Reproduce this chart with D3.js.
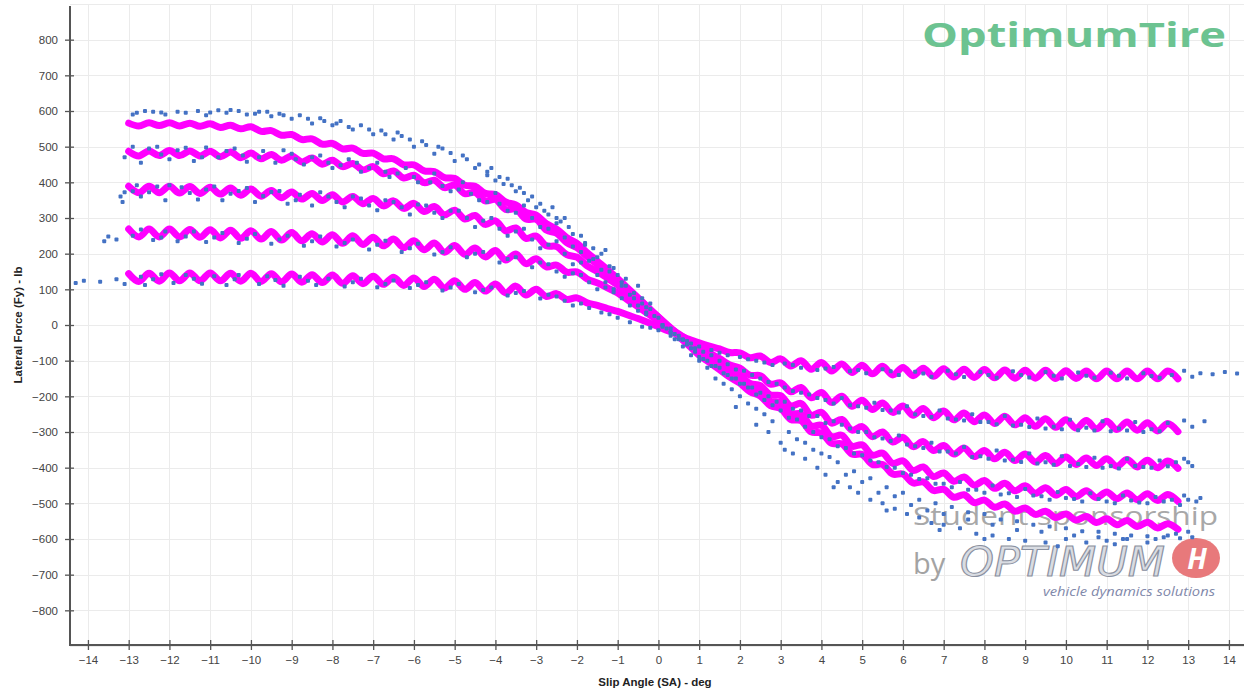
<!DOCTYPE html>
<html>
<head>
<meta charset="utf-8">
<script src="https://cdn.jsdelivr.net/npm/d3@7/dist/d3.min.js"></script>
<style>
  html, body { margin: 0; padding: 0; background: #fff; }
  svg { display: block; font-family: "Liberation Sans", Arial, sans-serif; }
</style>
</head>
<body>
<svg id="chart" width="1244" height="694"></svg>
<script>
// Tire lateral force vs slip angle: 5 normal loads, raw test points + fitted curves.
const xTickLabels = [-14, -13, -12, -11, -10, -9, -8, -7, -6, -5, -4, -3, -2, -1, 0, 1, 2, 3, 4, 5, 6, 7, 8, 9, 10, 11, 12, 13, 14];
const yTickLabels = [-800, -700, -600, -500, -400, -300, -200, -100, 0, 100, 200, 300, 400, 500, 600, 700, 800];

// fitted curves, sampled every 0.25 deg starting at -13 deg
const fitStart = -13;
const fitStep = 0.25;
const fitA = [566,558,567,559,567,558,566,557,564,554,560,550,556,543,545,532,534,520,522,507,509,494,496,481,482,466,466,449,449,432,430,413,411,392,389,369,366,345,337,316,
  308,284,269,245,229,203,179,155,130,103,76,49,22,-5,-32,-58,-85,-105,-125,-146,-163,
  -187,-199,-226,-234,-265,-268,-300,-303,-332,-333,-362,-363,-391,-391,-418,-418,-443,-440,-464,-461,-483,-476,-498,-491,-511,-502,-522,-513,-531,-522,-540,-530,-547,-537,-554,-543,-560,-548,-565,-553,-569,-557,-573];
const fitB = [487,474,488,475,489,475,488,474,487,472,485,469,482,466,478,462,474,457,468,451,462,444,453,435,444,424,432,412,420,399,406,385,392,368,372,348,352,324,325,297,
  296,266,257,231,217,192,170,148,125,99,74,48,22,-3,-28,-53,-78,-97,-117,-138,-152,
  -177,-185,-214,-218,-249,-249,-283,-281,-313,-309,-340,-336,-365,-359,-388,-381,-408,-398,-425,-415,-438,-426,-449,-436,-458,-444,-465,-451,-472,-456,-477,-461,-481,-465,-484,-468,-487,-471,-490,-473,-492,-475,-494];
const fitC = [389,371,389,371,389,370,388,369,386,367,384,364,381,361,377,357,373,353,369,349,365,345,360,340,355,334,348,327,341,318,332,309,322,297,307,282,292,264,272,243,
  249,222,220,197,190,166,150,131,112,88,64,39,15,-6,-28,-49,-70,-89,-108,-128,-142,
  -164,-170,-196,-198,-227,-220,-253,-245,-275,-265,-295,-285,-313,-300,-328,-315,-341,-327,-352,-338,-362,-345,-369,-352,-375,-357,-380,-362,-384,-366,-388,-370,-391,-373,-394,-375,-396,-377,-398,-379,-400,-381,-402];
const fitD = [269,247,269,247,269,247,268,246,267,244,266,243,264,241,262,238,259,236,256,233,253,229,250,226,246,222,241,217,236,211,230,204,223,198,216,191,209,182,199,172,
  186,163,168,148,149,129,118,104,90,70,51,31,12,-7,-25,-44,-62,-78,-94,-112,-121,
  -141,-142,-166,-162,-187,-175,-204,-189,-217,-200,-228,-211,-237,-219,-245,-227,-253,-234,-260,-241,-266,-247,-271,-252,-276,-256,-280,-260,-284,-263,-287,-266,-289,-268,-291,-270,-293,-272,-295,-274,-297,-276,-299];
const fitE = [144,122,145,123,146,124,146,124,146,124,145,123,145,122,144,121,143,120,141,119,140,117,138,116,137,114,134,111,132,108,128,104,124,100,119,95,115,90,109,84,
  100,80,88,72,76,62,55,46,38,28,18,7,-5,-17,-28,-40,-50,-59,-67,-77,-78,
  -92,-87,-105,-95,-115,-100,-124,-105,-129,-109,-133,-113,-137,-116,-140,-119,-142,-121,-144,-123,-146,-124,-147,-125,-148,-126,-149,-127,-149,-127,-150,-128,-150,-129,-151,-129,-151,-129,-151,-129,-151,-129,-151];

// measured points [slip angle, Fy]
const pointsA = [[-12.9,590],[-12.8,595],[-12.4,598],[-12.1,590],[-11.6,595],[-11.3,600],[-11.1,588],[-10.8,602],[-10.6,595],[-10.3,600],[-10.1,590],[-9.8,598],[-9.5,585],[-9.3,592],[-9.0,578],[-8.8,588],[-8.5,565],[-8.3,580],[-8.0,560],[-7.8,572],[-7.5,548],[-7.3,560],[-7.0,535],[-6.8,545],[-6.5,520],[-6.3,530],[-6.0,500],[-5.8,515],[-5.5,480],[-5.3,495],[-5.0,460],[-4.8,475],[-4.5,440],[-4.2,420],[-4.0,405],[-3.8,395],[-3.5,375],[-3.2,350],[-3.0,330],[-2.7,310],[-2.4,290],[-2.1,255],[-1.8,230],[-1.5,190],[-1.2,165],[-0.9,120],[-0.6,90],[-0.3,50],[0.1,0],[0.4,-40],[0.8,-85],[1.2,-120],[1.6,-165],[2.0,-200],[2.4,-235],[2.8,-270],[3.2,-300],[3.6,-330],[4.0,-360],[4.4,-385],[4.8,-410],[5.2,-430],[5.6,-455],[6.0,-470],[6.4,-490],[6.8,-500],[7.2,-510],[7.6,-525],[8.0,-530],[8.4,-545],[8.8,-550],[9.2,-560],[9.6,-565],[10.0,-570],[10.4,-578],[10.8,-580],[11.2,-585],[11.6,-590],[12.0,-592],[12.4,-595],[12.8,-598],[13.0,-580],
  [3.0,-330],[3.3,-360],[3.6,-375],[3.9,-400],[4.1,-420],[4.4,-440],[4.7,-455],[4.9,-470],[5.2,-490],[5.5,-500],[5.8,-515],[6.1,-530],[6.4,-540],[6.7,-555],[7.0,-560],[7.4,-570],[7.8,-585],[8.2,-590],[8.6,-600],[9.0,-605],[9.5,-610],[10.0,-600],[10.5,-610],[11.0,-605],[11.5,-600],[12.0,-610],[12.5,-590],[2.4,-280],[2.7,-300],[1.9,-230],
  [-4.2,430],[-3.9,415],[-3.4,385],[-3.1,360],[-2.6,330],[-2.3,300],[-1.3,210],[-0.5,110],
  [-12.6,600],[-12.2,596],[-11.8,598],[-11.0,596],[-10.5,603],[-9.9,592],[-9.6,598],[-9.2,588],[-8.6,578],[-8.2,572],[-7.9,565],[-7.6,555],[-7.1,548],[-6.7,535],[-6.4,540],[-6.1,520],[-5.7,505],[-5.4,500],[-5.1,482],[-4.7,465],[-4.4,450],[-4.1,440],[-3.7,410],[-3.6,392],[-3.3,370],[-2.9,340],[-2.8,320],[-2.5,300],[-2.2,275],[-1.9,250],[-1.6,215],[-1.4,200],[-1.1,160],[-0.8,130],[-0.4,75],[-0.2,60],[0.3,-10],[0.6,-60],[1.0,-100],[1.4,-150],[1.8,-180],[2.2,-220],[2.6,-250],[3.4,-320],[3.8,-350],[4.2,-370],[4.6,-420],[5.0,-440],[5.4,-470],[5.8,-480],[6.2,-505],[6.6,-520],[7.0,-530],[7.6,-545],[8.2,-560],[8.8,-575],[9.4,-580],[10.2,-590],[10.8,-595],[11.4,-600],[12.2,-600],[12.7,-585],[13.1,-595],[3.1,-350],[4.3,-455],[5.6,-520],[6.9,-575],[8.0,-600],[9.8,-620],[11.2,-615]];
const pointsB = [[-13.1,470],[-12.9,500],[-12.7,455],[-12.3,500],[-12.0,465],[-11.8,490],[-11.4,460],[-11.1,498],[-10.8,470],[-10.4,495],[-10.1,458],[-9.7,488],[-9.4,455],[-9.0,480],[-8.7,450],[-8.3,475],[-8.0,440],[-7.6,465],[-7.3,430],[-6.9,455],[-6.6,415],[-6.2,440],[-5.9,400],[-5.5,425],[-5.1,375],[-4.8,400],[-4.4,350],[-4.0,370],[-3.7,320],[-3.3,335],[-2.9,275],[-2.5,285],[-2.1,220],[-1.8,225],[-1.4,155],[-1.0,140],[-0.6,75],[-0.2,45],[0.2,-10],[0.6,-40],[1.0,-90],[1.4,-115],[1.8,-150],[2.2,-175],[2.6,-210],[3.0,-240],[3.4,-265],[3.8,-300],[4.2,-320],[4.6,-345],[5.0,-365],[5.4,-385],[5.8,-400],[6.2,-420],[6.6,-430],[7.0,-445],[7.4,-440],[7.8,-462],[8.2,-450],[8.6,-472],[9.0,-460],[9.4,-480],[9.8,-468],[10.2,-488],[10.6,-472],[11.0,-495],[11.4,-478],[11.8,-498],[12.2,-482],[12.6,-490],[12.9,-478],[13.2,-495],[13.3,-485],
  [-12.5,495],[-12.2,478],[-11.6,497],[-11.2,470],[-10.6,488],[-10.2,475],[-9.8,470],[-9.2,490],[-8.9,465],[-8.5,470],[-8.1,455],[-7.8,448],[-7.4,455],[-7.1,440],[-6.7,430],[-6.4,425],[-6.0,415],[-5.6,400],[-5.3,390],[-4.9,380],[-4.6,368],[-4.2,345],[-3.9,340],[-3.5,315],[-3.1,300],[-2.7,270],[-2.3,245],[-1.9,205],[-1.6,185],[-1.2,150],[-0.8,110],[-0.4,60],[0.0,20],[0.4,-25],[0.8,-65],[1.2,-100],[1.6,-135],[2.0,-165],[2.4,-195],[2.8,-225],[3.2,-260],[3.6,-285],[4.0,-315],[4.4,-340],[4.8,-360],[5.2,-380],[5.6,-398],[6.0,-415],[6.4,-432],[6.8,-445],[7.2,-455],[7.6,-462],[8.0,-470],[8.4,-475],[8.8,-482],[9.2,-478],[9.6,-490],[10.0,-485],[10.4,-495],[10.8,-488],[11.2,-500],[11.6,-492],[12.0,-500],[12.4,-495],[12.8,-505],[13.0,-490]];
const pointsC = [[-13.2,360],[-13.15,345],[-13.1,372],[-12.8,392],[-12.7,360],[-12.3,388],[-12.1,350],[-11.7,386],[-11.3,352],[-11.1,380],[-10.7,350],[-10.3,376],[-9.9,345],[-9.5,373],[-9.1,340],[-8.8,365],[-8.5,335],[-8.1,360],[-7.7,330],[-7.3,355],[-6.9,322],[-6.5,345],[-6.1,310],[-5.7,335],[-5.3,300],[-4.9,320],[-4.5,275],[-4.1,300],[-3.7,250],[-3.3,270],[-2.9,215],[-2.5,235],[-2.1,170],[-1.7,180],[-1.3,120],[-0.9,110],[-0.5,55],[-0.1,25],[0.3,-20],[0.7,-55],[1.1,-95],[1.5,-120],[1.9,-150],[2.3,-175],[2.7,-200],[3.1,-215],[3.5,-240],[3.9,-255],[4.3,-270],[4.7,-290],[5.1,-300],[5.5,-318],[5.9,-310],[6.3,-340],[6.7,-330],[7.1,-355],[7.5,-342],[7.9,-368],[8.3,-352],[8.7,-378],[9.1,-360],[9.5,-385],[9.9,-368],[10.3,-390],[10.7,-372],[11.1,-395],[11.5,-375],[11.9,-398],[12.3,-380],[12.7,-385],[12.9,-375],[13.1,-395],
  [-12.9,375],[-12.5,372],[-12.0,392],[-11.5,370],[-10.9,388],[-10.5,368],[-10.1,384],[-9.7,362],[-9.3,376],[-8.9,350],[-8.3,372],[-7.9,345],[-7.5,360],[-7.1,335],[-6.7,350],[-6.3,330],[-5.9,338],[-5.5,315],[-5.1,320],[-4.7,300],[-4.3,292],[-3.9,270],[-3.5,262],[-3.1,240],[-2.7,225],[-2.3,200],[-1.9,175],[-1.5,140],[-1.1,100],[-0.7,85],[-0.3,35],[0.1,0],[0.5,-40],[0.9,-75],[1.3,-115],[1.7,-140],[2.1,-165],[2.5,-190],[2.9,-215],[3.3,-235],[3.7,-255],[4.1,-275],[4.5,-280],[4.9,-300],[5.3,-315],[5.7,-325],[6.1,-335],[6.5,-345],[6.9,-355],[7.3,-360],[7.7,-370],[8.1,-375],[8.5,-380],[8.9,-384],[9.3,-388],[9.7,-392],[10.1,-395],[10.5,-398],[10.9,-400],[11.3,-402],[11.7,-395],[12.1,-400],[12.5,-396],[13.0,-385]];
const pointsD = [[-13.6,235],[-13.5,248],[-13.3,240],[-12.9,250],[-12.7,268],[-12.4,238],[-12.1,262],[-11.8,235],[-11.4,262],[-11.1,233],[-10.7,258],[-10.3,230],[-9.9,255],[-9.5,228],[-9.1,250],[-8.7,222],[-8.3,248],[-7.9,220],[-7.5,240],[-7.1,212],[-6.7,236],[-6.3,205],[-5.9,228],[-5.5,198],[-5.1,218],[-4.7,190],[-4.3,205],[-3.9,175],[-3.5,190],[-3.1,162],[-2.7,170],[-2.3,135],[-1.9,140],[-1.5,100],[-1.1,92],[-0.7,55],[-0.3,30],[0.1,-5],[0.5,-30],[0.9,-65],[1.3,-85],[1.7,-110],[2.1,-128],[2.5,-150],[2.9,-165],[3.3,-185],[3.7,-195],[4.1,-210],[4.5,-205],[4.9,-228],[5.3,-218],[5.7,-240],[6.1,-228],[6.5,-255],[6.9,-240],[7.3,-265],[7.7,-250],[8.1,-272],[8.5,-255],[8.9,-280],[9.3,-262],[9.7,-285],[10.1,-266],[10.5,-288],[10.9,-270],[11.3,-290],[11.7,-272],[12.1,-292],[12.5,-275],[12.9,-268],[13.1,-285],[13.4,-270],
  [-12.2,245],[-11.6,248],[-10.9,245],[-10.1,242],[-9.3,240],[-8.5,235],[-7.7,230],[-6.9,225],[-6.1,215],[-5.3,205],[-4.5,200],[-3.7,185],[-2.9,175],[-2.5,150],[-2.1,145],[-1.7,120],[-1.3,105],[-0.9,75],[-0.5,40],[0.3,-20],[0.7,-45],[1.1,-75],[1.5,-100],[1.9,-125],[2.3,-140],[2.7,-160],[3.1,-175],[3.5,-190],[3.9,-205],[4.3,-220],[4.7,-225],[5.1,-232],[5.5,-238],[5.9,-245],[6.3,-250],[6.7,-258],[7.1,-262],[7.5,-268],[7.9,-272],[8.3,-278],[8.7,-282],[9.1,-286],[9.5,-290],[9.9,-292],[10.3,-295],[10.7,-296],[11.1,-298],[11.5,-296],[11.9,-300],[12.3,-298]];
const pointsE = [[-14.3,118],[-14.1,124],[-13.7,121],[-13.3,128],[-13.1,115],[-12.7,135],[-12.6,112],[-12.2,142],[-11.9,118],[-11.6,140],[-11.2,116],[-10.9,137],[-10.6,112],[-10.3,140],[-9.8,115],[-9.6,137],[-9.2,110],[-8.8,135],[-8.4,112],[-8.1,130],[-7.7,108],[-7.3,130],[-6.9,106],[-6.5,125],[-6.1,104],[-5.7,120],[-5.3,97],[-4.9,115],[-4.5,92],[-4.1,105],[-3.7,83],[-3.3,95],[-2.9,74],[-2.5,80],[-2.1,55],[-1.7,48],[-1.4,35],[-1.0,20],[-0.7,8],[-0.4,-5],[0,-15],[0.3,-30],[0.6,-42],[1.0,-60],[1.3,-70],[1.7,-85],[2.0,-90],[2.4,-100],[2.8,-112],[3.1,-108],[3.5,-120],[3.9,-126],[4.3,-118],[4.7,-130],[5.1,-135],[5.5,-124],[5.9,-140],[6.3,-131],[6.7,-145],[7.1,-128],[7.5,-146],[7.9,-132],[8.3,-148],[8.7,-130],[9.1,-147],[9.5,-132],[9.9,-150],[10.3,-133],[10.7,-148],[11.1,-134],[11.5,-150],[11.9,-135],[12.3,-148],[12.6,-140],[12.9,-128],[13.1,-145],[13.3,-135],[13.6,-138],[13.9,-132],[14.2,-136],
  [-12.4,128],[-11.4,130],[-10.4,128],[-9.4,126],[-8.6,124],[-7.5,120],[-6.7,115],[-5.9,112],[-5.1,105],[-4.3,98],[-3.5,90],[-2.7,85],[-2.3,68],[-1.9,60],[-1.2,30],[-0.2,-8],[0.8,-52],[1.5,-78],[2.2,-96],[2.6,-105],[3.3,-112],[4.1,-122],[4.9,-126],[5.7,-130],[6.5,-136],[7.3,-138],[8.1,-140],[8.9,-140],[9.7,-142],[10.5,-142],[11.3,-142],[12.1,-143]];

const fits = [fitA, fitB, fitC, fitD, fitE];
const pointSets = [pointsA, pointsB, pointsC, pointsD, pointsE];

const svg = d3.select("#chart");
const x = d3.scaleLinear().domain([-14.44, 14.37]).range([70, 1244]);
const y = d3.scaleLinear().domain([-900, 900]).range([646, 4]);

// grid
const grid = svg.append("g").attr("stroke", "#ebebeb").attr("stroke-width", 1);
grid.selectAll(".gx").data(xTickLabels).join("line")
    .attr("x1", d => Math.round(x(d)) + .5).attr("x2", d => Math.round(x(d)) + .5)
    .attr("y1", y(900)).attr("y2", y(-900));
grid.selectAll(".gy").data(d3.range(-900, 901, 100)).join("line")
    .attr("x1", x.range()[0]).attr("x2", x.range()[1])
    .attr("y1", d => Math.round(y(d)) + .5).attr("y2", d => Math.round(y(d)) + .5);

// watermark (behind data)
const wm = svg.append("g").attr("font-family", "'Open Sans', 'Liberation Sans', sans-serif");
wm.append("text").attr("x", 913).attr("y", 525).attr("font-size", 25).attr("fill", "#a8a8a8")
    .attr("textLength", 305).attr("lengthAdjust", "spacingAndGlyphs").text("Student sponsorship");
wm.append("text").attr("x", 913).attr("y", 574).attr("font-size", 29).attr("fill", "#a3a3a3").text("by");
wm.append("text").attr("x", 960).attr("y", 576).attr("font-size", 40).attr("font-style", "italic")
    .attr("font-family", "'DejaVu Sans Condensed', sans-serif").attr("font-weight", "normal")
    .attr("fill", "#d9dce2").attr("stroke", "#8a90a0").attr("stroke-width", 1)
    .attr("textLength", 205).attr("lengthAdjust", "spacingAndGlyphs").text("OPTIMUM");
wm.append("ellipse").attr("cx", 1196).attr("cy", 558).attr("rx", 24).attr("ry", 20).attr("fill", "#e8797b");
wm.append("text").attr("x", 1197).attr("y", 569).attr("text-anchor", "middle").attr("font-size", 28)
    .attr("font-style", "italic").attr("font-weight", "bold").attr("fill", "#fff").text("H");
wm.append("text").attr("x", 1043).attr("y", 596).attr("font-size", 12.5).attr("font-style", "italic")
    .attr("fill", "#7f88aa").attr("textLength", 172).attr("lengthAdjust", "spacingAndGlyphs")
    .text("vehicle dynamics solutions");

// logo
svg.append("text").attr("x", 922).attr("y", 47)
    .attr("font-family", "'Open Sans', sans-serif").attr("font-weight", 700).attr("font-size", 34)
    .attr("fill", "#6cc391").attr("textLength", 304).attr("lengthAdjust", "spacingAndGlyphs")
    .text("OptimumTire");

// fitted curves
const line = d3.line()
    .x((d, i) => x(fitStart + i * fitStep))
    .y(d => y(d))
    .curve(d3.curveCatmullRom.alpha(.5));
svg.append("g").selectAll("path").data(fits).join("path")
    .attr("d", line)
    .attr("fill", "none")
    .attr("stroke", "#ff00ff")
    .attr("stroke-width", 7)
    .attr("stroke-linecap", "round")
    .attr("stroke-linejoin", "round");

// measured points
svg.append("g").attr("fill", "#4472c4").selectAll("g").data(pointSets).join("g")
    .selectAll("rect").data(d => d).join("rect")
    .attr("x", d => x(d[0]) - 2).attr("y", d => y(d[1]) - 2)
    .attr("width", 4).attr("height", 4).attr("rx", 1);

// axes
const yAxis = svg.append("g").attr("transform", "translate(70,0)")
    .call(d3.axisLeft(y).tickValues(yTickLabels).tickSize(5).tickPadding(7));
const xAxis = svg.append("g").attr("transform", "translate(0,645)")
    .call(d3.axisBottom(x).tickValues(xTickLabels).tickSize(5).tickPadding(6));
[yAxis, xAxis].forEach(a => {
    a.select(".domain").remove();
    a.selectAll("text").attr("font-size", 11.5).attr("fill", "#444")
        .attr("font-family", "'Liberation Sans', Arial, sans-serif");
    a.selectAll(".tick line").attr("stroke", "#555").attr("stroke-width", 1.3);
});
yAxis.selectAll(".tick line").attr("x1", 4);
xAxis.selectAll(".tick line").attr("y1", -5);
svg.append("line").attr("x1", 70).attr("x2", 70).attr("y1", 6).attr("y2", 646)
    .attr("stroke", "#555").attr("stroke-width", 2);
svg.append("line").attr("x1", 69).attr("x2", 1244).attr("y1", 645).attr("y2", 645)
    .attr("stroke", "#555").attr("stroke-width", 2);

// axis titles
svg.append("text").attr("x", 655).attr("y", 686).attr("text-anchor", "middle")
    .attr("font-size", 11.5).attr("font-weight", "bold").attr("fill", "#222")
    .text("Slip Angle (SA) - deg");
svg.append("text").attr("transform", "translate(22,325) rotate(-90)").attr("text-anchor", "middle")
    .attr("font-size", 11.5).attr("font-weight", "bold").attr("fill", "#222")
    .text("Lateral Force (Fy) - lb");
</script>
</body>
</html>
